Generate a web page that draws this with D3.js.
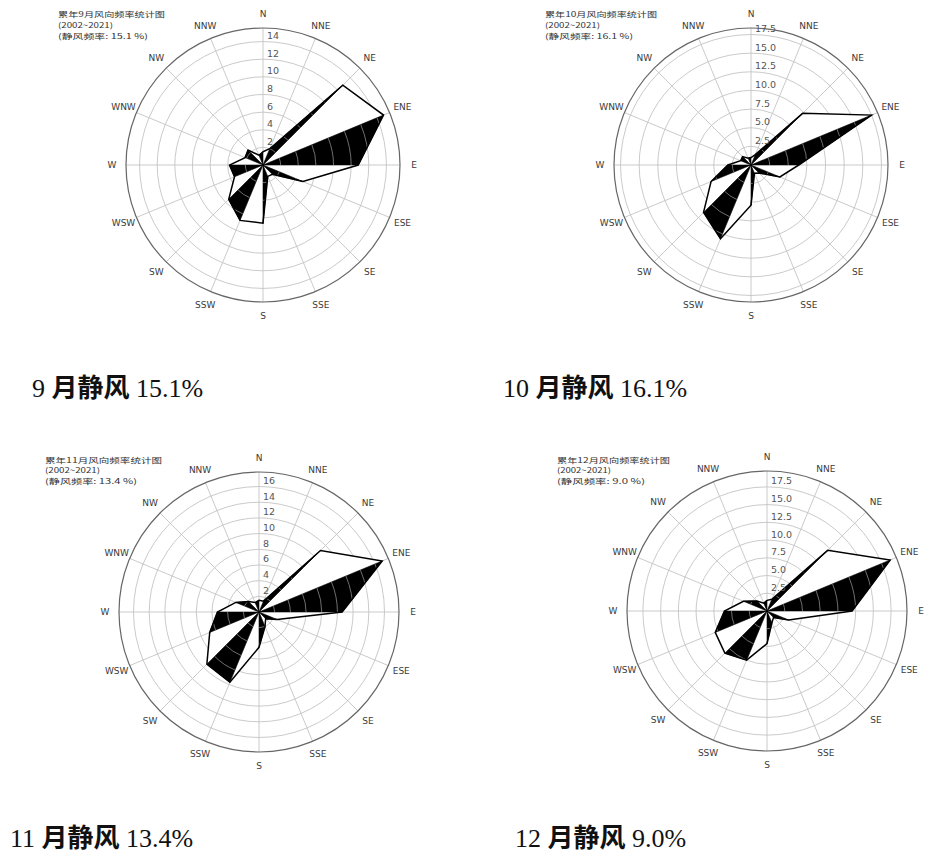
<!DOCTYPE html>
<html><head><meta charset="utf-8">
<script src="https://cdn.jsdelivr.net/npm/d3@7"></script>
<style>body{margin:0;background:#fff}svg{display:block}</style>
</head><body>
<svg id="chart" width="926" height="855"></svg>
<script>
// ---- data ----
const directions = ["N","NNE","NE","ENE","E","ESE","SE","SSE","S","SSW","SW","WSW","W","WNW","NW","NNW"];
const months = ["9","10","11","12"];
const calmRates = ["15.1","16.1","13.4","9.0"];
const freqSep = [1.5,2.0,12.8,14.8,10.8,4.9,1.5,1.4,6.6,6.8,5.5,3.5,3.8,2.2,2.4,1.2];
const freqOct = [1.0,1.5,9.8,17.5,6.4,4.2,1.5,1.2,5.4,10.7,9.0,5.8,3.1,1.5,1.6,1.0];
const freqNov = [1.5,1.5,11.1,17.0,10.6,2.5,1.2,2.0,4.5,9.7,9.4,6.8,5.3,3.2,1.9,1.3];
const freqDec = [1.5,1.8,12.1,18.8,12.0,3.3,1.3,1.8,4.6,7.5,8.4,7.9,6.0,3.6,2.0,1.2];
const ticksSep = [2,4,6,8,10,12,14];
const ticksOct = [2.5,5,7.5,10,12.5,15,17.5];
const ticksNov = [2,4,6,8,10,12,14,16];
const ticksDec = [2.5,5,7.5,10,12.5,15,17.5];
const tickFormats = ["d",".1f","d",".1f"];
const yearsLabel = "(2002~2021)";

// ---- layout ----
const panels = [
  {cx:263, cy:165, R:137, tx:58,  ty:17, w:[107,55,90]},
  {cx:751, cy:165, R:137, tx:545, ty:17, w:[112,55,88]},
  {cx:259, cy:612, R:140, tx:45,  ty:462.5, w:[117,55,92]},
  {cx:767, cy:611, R:140, tx:557, ty:462.5, w:[113,54,88]}
];
const captions = [
  {x:32, y:397}, {x:503, y:397}, {x:10, y:847}, {x:515, y:847}
];
const seriesList = [freqSep, freqOct, freqNov, freqDec];
const tickList = [ticksSep, ticksOct, ticksNov, ticksDec];

const svg = d3.select("#chart");
const defs = svg.append("defs");

seriesList.forEach((vals, p) => {
  const P = panels[p];
  const rmax = d3.max(vals) * 1.05;
  const r = d3.scaleLinear().domain([0, rmax]).range([0, P.R]);
  const a = d3.scaleLinear().domain([0, directions.length]).range([0, 2 * Math.PI]);
  const g = svg.append("g").attr("transform", `translate(${P.cx},${P.cy})`);
  const pt = (i) => [r(vals[i]) * Math.sin(a(i)), -r(vals[i]) * Math.cos(a(i))];

  // grid rings
  g.selectAll("circle.ring").data(tickList[p]).join("circle")
    .attr("class","ring").attr("r", d => r(d))
    .attr("fill","none").attr("stroke","#c4c4c4").attr("stroke-width",0.9);
  // spokes
  g.selectAll("line.spoke").data(directions).join("line")
    .attr("x1",0).attr("y1",0)
    .attr("x2",(d,i)=>P.R*Math.sin(a(i))).attr("y2",(d,i)=>-P.R*Math.cos(a(i)))
    .attr("stroke","#c4c4c4").attr("stroke-width",0.9);

  const radial = d3.lineRadial().angle((d,i)=>a(i)).radius(d=>r(d)).curve(d3.curveLinearClosed);
  // white body
  g.append("path").attr("d", radial(vals)).attr("fill","#fff").attr("stroke","none");

  // black alternate triangles
  const tri = d3.range(1, directions.length, 2).map(i => {
    const j = (i + 1) % directions.length;
    const A = pt(i), B = pt(j);
    return `M0,0L${A[0]},${A[1]}L${B[0]},${B[1]}Z`;
  });
  const clipId = "clip" + p;
  const cp = defs.append("clipPath").attr("id", clipId);
  cp.selectAll("path").data(tri).join("path").attr("d", d => d);
  g.selectAll("path.tri").data(tri).join("path").attr("class","tri")
    .attr("d", d => d).attr("fill","#000").attr("stroke","#000").attr("stroke-width",0.6);
  // seams inside black
  g.append("g").attr("clip-path", `url(#${clipId})`)
    .selectAll("circle").data(tickList[p]).join("circle")
    .attr("r", d => r(d)).attr("fill","none").attr("stroke","#8a8a8a").attr("stroke-width",0.8);

  // outline
  g.append("path").attr("d", radial(vals)).attr("fill","none")
    .attr("stroke","#000").attr("stroke-width",1.5).attr("stroke-linejoin","miter");

  // outer circle
  g.append("circle").attr("r", P.R).attr("fill","none").attr("stroke","#666").attr("stroke-width",1.2);

  // r tick labels
  const fmt = d3.format(tickFormats[p]);
  g.selectAll("text.rt").data(tickList[p]).join("text").attr("class","rt")
    .attr("x", 4).attr("y", d => -r(d) - 2.5)
    .attr("font-family","DejaVu Sans, sans-serif").attr("font-size",9.5).attr("fill","#555")
    .text(d => fmt(d));

  // direction labels
  g.selectAll("text.dir").data(directions).join("text").attr("class","dir")
    .attr("x",(d,i)=>(P.R+14)*Math.sin(a(i))).attr("y",(d,i)=>-(P.R+14)*Math.cos(a(i)))
    .attr("text-anchor","middle").attr("dominant-baseline","central")
    .attr("font-family","DejaVu Sans, sans-serif").attr("font-size",9).attr("fill","#3a3a3a")
    .text(d => d);

  // title block
  const tl = [`累年${months[p]}月风向频率统计图`, yearsLabel, `(静风频率: ${calmRates[p]} %)`];
  svg.append("g").selectAll("text").data(tl).join("text")
    .attr("x", P.tx).attr("y", (d,i) => P.ty + i * 10.8)
    .attr("font-family","Noto Sans CJK SC, sans-serif").attr("font-size",7.4).attr("fill","#333")
    .attr("textLength", (d,i) => P.w[i]).attr("lengthAdjust","spacingAndGlyphs")
    .text(d => d);

  // caption
  const C = captions[p];
  const t = svg.append("text").attr("x", C.x).attr("y", C.y)
    .attr("font-family","Liberation Serif, Noto Sans CJK SC, serif").attr("font-size",26).attr("fill","#111");
  t.append("tspan").text(months[p] + " ");
  t.append("tspan").attr("font-family","Noto Sans CJK SC").attr("font-weight",700).text("月静风");
  t.append("tspan").text(" " + calmRates[p] + "%");
});
</script>
</body></html>
